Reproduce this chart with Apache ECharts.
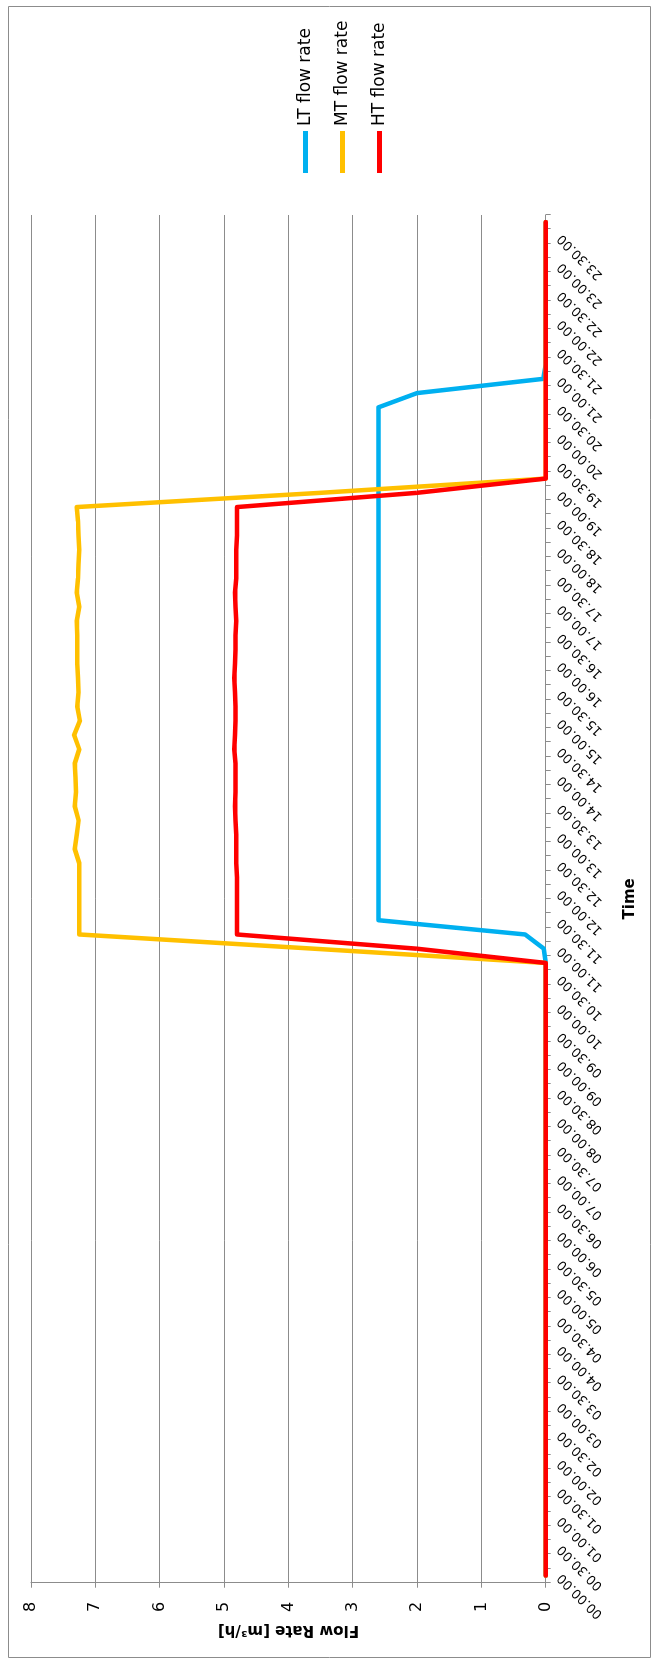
<!DOCTYPE html>
<html>
<head>
<meta charset="utf-8">
<script src="https://cdn.jsdelivr.net/npm/echarts@6/dist/echarts.min.js"></script>
<style>
  html, body { margin: 0; padding: 0; background: #fff; }
  #page { position: relative; width: 657px; height: 1664px; overflow: hidden; }
  /* the chart is laid out landscape and turned a quarter-turn counter-clockwise */
  #chart {
    position: absolute; left: 0; top: 0;
    width: 1664px; height: 657px;
    transform-origin: 0 0;
    transform: translateY(1664px) rotate(-90deg);
  }
</style>
</head>
<body>
<div id="page"><div id="chart"></div></div>
<script>
// quarter-hour time stamps over one day
const times = [
  '00.00.00','00.15.00','00.30.00','00.45.00','01.00.00','01.15.00','01.30.00','01.45.00',
  '02.00.00','02.15.00','02.30.00','02.45.00','03.00.00','03.15.00','03.30.00','03.45.00',
  '04.00.00','04.15.00','04.30.00','04.45.00','05.00.00','05.15.00','05.30.00','05.45.00',
  '06.00.00','06.15.00','06.30.00','06.45.00','07.00.00','07.15.00','07.30.00','07.45.00',
  '08.00.00','08.15.00','08.30.00','08.45.00','09.00.00','09.15.00','09.30.00','09.45.00',
  '10.00.00','10.15.00','10.30.00','10.45.00','11.00.00','11.15.00','11.30.00','11.45.00',
  '12.00.00','12.15.00','12.30.00','12.45.00','13.00.00','13.15.00','13.30.00','13.45.00',
  '14.00.00','14.15.00','14.30.00','14.45.00','15.00.00','15.15.00','15.30.00','15.45.00',
  '16.00.00','16.15.00','16.30.00','16.45.00','17.00.00','17.15.00','17.30.00','17.45.00',
  '18.00.00','18.15.00','18.30.00','18.45.00','19.00.00','19.15.00','19.30.00','19.45.00',
  '20.00.00','20.15.00','20.30.00','20.45.00','21.00.00','21.15.00','21.30.00','21.45.00',
  '22.00.00','22.15.00','22.30.00','22.45.00','23.00.00','23.15.00','23.30.00','23.45.00'
];

// flow rates in m³/h
const ltFlow = [
  0,0,0,0,0,0,0,0, 0,0,0,0,0,0,0,0, 0,0,0,0,0,0,0,0,
  0,0,0,0,0,0,0,0, 0,0,0,0,0,0,0,0, 0,0,0,0,
  0.03, 0.32,
  2.6,2.6,2.6,2.6,2.6,2.6,2.6,2.6,2.6,2.6,2.6,2.6,2.6,2.6,2.6,2.6,2.6,2.6,2.6,
  2.6,2.6,2.6,2.6,2.6,2.6,2.6,2.6,2.6,2.6,2.6,2.6,2.6,2.6,2.6,2.6,2.6,2.6,
  2.0, 0.04,
  0,0,0,0,0,0,0,0,0,0,0
];

const mtFlow = [
  0,0,0,0,0,0,0,0, 0,0,0,0,0,0,0,0, 0,0,0,0,0,0,0,0,
  0,0,0,0,0,0,0,0, 0,0,0,0,0,0,0,0, 0,0,0,0,
  3.6,
  7.25,7.25,7.25,7.25,7.25,7.25,7.32,7.29,7.26,7.32,7.30,7.31,7.32,7.25,7.33,7.24,
  7.28,7.26,7.27,7.28,7.28,7.28,7.29,7.25,7.29,7.27,7.26,7.25,7.26,7.27,7.29,
  3.5,
  0,0,0,0,0,0,0,0,0,0,0,0,0,0,0,0,0,0,0
];

const htFlow = [
  0,0,0,0,0,0,0,0, 0,0,0,0,0,0,0,0, 0,0,0,0,0,0,0,0,
  0,0,0,0,0,0,0,0, 0,0,0,0,0,0,0,0, 0,0,0,0,
  2.0,
  4.80,4.80,4.80,4.80,4.80,4.81,4.81,4.81,4.82,4.83,4.82,4.82,4.82,4.84,4.83,4.82,
  4.82,4.83,4.84,4.83,4.82,4.82,4.81,4.82,4.83,4.81,4.81,4.81,4.80,4.80,4.80,
  2.0,
  0,0,0,0,0,0,0,0,0,0,0,0,0,0,0,0,0,0,0
];

const seriesNames = ['LT flow rate', 'MT flow rate', 'HT flow rate'];
const seriesColors = ['#00B0F0', '#FFC000', '#FF0000'];
const valueTicks = [0, 8, 1]; // min, max, step

const FONT = 'DejaVu Sans';
const GRID_GRAY = '#8c8c8c';

const chart = echarts.init(document.getElementById('chart'), null, { renderer: 'canvas' });

function lineSeries(name, data, color) {
  return {
    name: name,
    type: 'line',
    data: data,
    symbol: 'none',
    color: color,
    lineStyle: { color: color, width: 4.5, cap: 'round', join: 'round' },
    emphasis: { disabled: true }
  };
}

chart.setOption({
  animation: false,
  backgroundColor: '#ffffff',
  textStyle: { fontFamily: FONT, color: '#000' },
  graphic: [{
    type: 'rect',
    shape: { x: 6.5, y: 8.5, width: 1651, height: 642 },
    style: { fill: 'none', stroke: GRID_GRAY, lineWidth: 1 },
    silent: true
  }],
  legend: {
    orient: 'vertical',
    left: 1486,
    top: 292,
    itemWidth: 42,
    itemHeight: 17,
    itemGap: 20,
    icon: 'path://M0,0H42V5H0Z',
    textStyle: { fontFamily: FONT, fontSize: 17, lineHeight: 17, color: '#000' },
    data: seriesNames
  },
  grid: { left: 81.3, right: 215, top: 31, bottom: 111.3 },
  xAxis: {
    type: 'category',
    data: times,
    boundaryGap: true,
    name: 'Time',
    nameLocation: 'middle',
    nameGap: 77,
    nameTextStyle: { fontFamily: FONT, fontSize: 15, fontWeight: 'bold', color: '#000' },
    axisLine: { show: true, lineStyle: { color: GRID_GRAY, width: 1 } },
    axisTick: { show: true, interval: 0, length: 5, lineStyle: { color: GRID_GRAY, width: 1 } },
    axisLabel: { interval: 1, rotate: 45, margin: 14, fontFamily: FONT, fontSize: 13, color: '#000' },
    splitLine: { show: false }
  },
  yAxis: {
    type: 'value',
    min: valueTicks[0],
    max: valueTicks[1],
    interval: valueTicks[2],
    name: 'Flow Rate [m³/h]',
    nameLocation: 'middle',
    nameGap: 38,
    nameTextStyle: { fontFamily: FONT, fontSize: 15, fontWeight: 'bold', color: '#000' },
    axisLine: { show: true, lineStyle: { color: GRID_GRAY, width: 1 } },
    axisTick: { show: true, length: 5, lineStyle: { color: GRID_GRAY, width: 1 } },
    axisLabel: { margin: 19, fontFamily: FONT, fontSize: 16, color: '#000' },
    splitLine: { show: true, lineStyle: { color: GRID_GRAY, width: 1 } }
  },
  series: [
    lineSeries(seriesNames[0], ltFlow, seriesColors[0]),
    lineSeries(seriesNames[1], mtFlow, seriesColors[1]),
    lineSeries(seriesNames[2], htFlow, seriesColors[2])
  ]
});
</script>
</body>
</html>
